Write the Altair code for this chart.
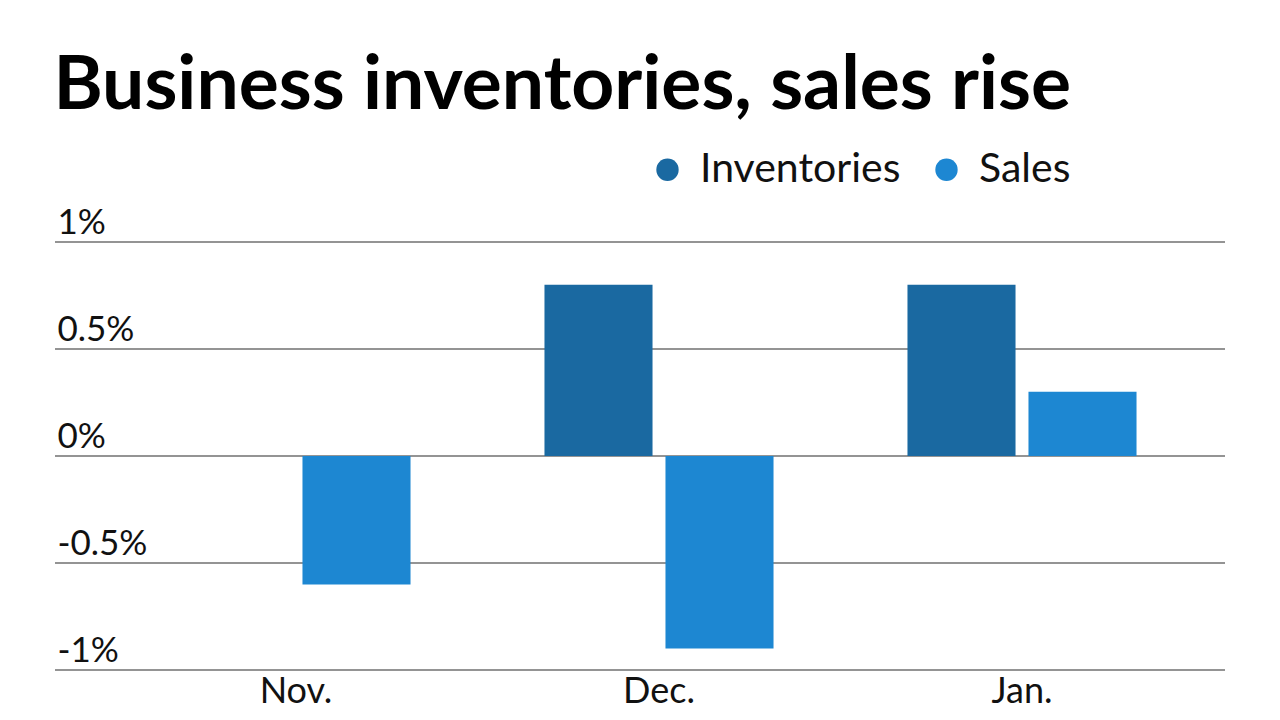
import altair as alt
import pandas as pd

months = ["Nov.", "Dec.", "Jan."]
inventories = [0.0, 0.8, 0.8]
sales = [-0.6, -0.9, 0.3]
series = ["Inventories", "Sales"]
colors = ["#1a69a1", "#1d87d2"]
y_ticks = [-1, -0.5, 0, 0.5, 1]

rows = []
for m, inv, s in zip(months, inventories, sales):
    rows.append({"month": m, "series": "Inventories", "value": inv})
    rows.append({"month": m, "series": "Sales", "value": s})
df = pd.DataFrame(rows)
grid_df = pd.DataFrame({"value": y_ticks})

FONT = "Lato"
W, H = 1170, 428

y_scale = alt.Scale(domain=[-1, 1], nice=False, zero=False)
y_axis = alt.Axis(
    title=None, values=y_ticks, domain=False, ticks=False, grid=False,
    labelExpr="datum.value + '%'", labelAlign="left", labelBaseline="alphabetic",
    labelPadding=-2, labelOffset=-9, labelFontSize=35, labelFont=FONT,
    labelColor="#111111", labelOverlap=False, labelFlush=False,
)

grid = (
    alt.Chart(grid_df)
    .mark_rule(color="#2a2a2a", strokeWidth=1.2)
    .encode(y=alt.Y("value:Q", scale=y_scale, axis=y_axis), x=alt.value(0), x2=alt.value(W))
)

bars = (
    alt.Chart(df)
    .mark_bar()
    .encode(
        x=alt.X(
            "month:N",
            sort=months,
            scale=alt.Scale(range=[59.5, 1148.5], paddingInner=0.369, paddingOuter=0.1845),
            axis=alt.Axis(
                title=None, domain=False, ticks=False, grid=False, labelAngle=0,
                labelFontSize=36, labelFont=FONT, labelColor="#111111", labelPadding=4,
            ),
        ),
        xOffset=alt.XOffset("series:N", sort=series,
                            scale=alt.Scale(paddingInner=0.107, paddingOuter=0)),
        y=alt.Y("value:Q", scale=y_scale, axis=y_axis),
        color=alt.Color(
            "series:N",
            sort=series,
            scale=alt.Scale(domain=series, range=colors),
            legend=alt.Legend(
                title=None, orient="none", legendX=592, legendY=-93, direction="horizontal",
                symbolType="circle", symbolSize=500, symbolStrokeWidth=0,
                labelFontSize=41, labelFont=FONT, labelColor="#111111", labelLimit=400,
                labelOffset=12, columnPadding=25,
            ),
        ),
    )
)

chart = (
    alt.layer(grid, bars)
    .properties(
        width=W,
        height=H,
        title=alt.TitleParams(
            "Business inventories, sales rise", anchor="start", fontSize=75,
            font=FONT, fontWeight="bold", color="#000000", dx=-1, dy=-20,
        ),
        autosize=alt.AutoSizeParams(type="none"),
        padding={"left": 47, "top": 234, "right": 30, "bottom": 40},
    )
    .configure_view(stroke=None)
)

chart.save("out.html", embed_options={"renderer": "svg", "actions": False})
